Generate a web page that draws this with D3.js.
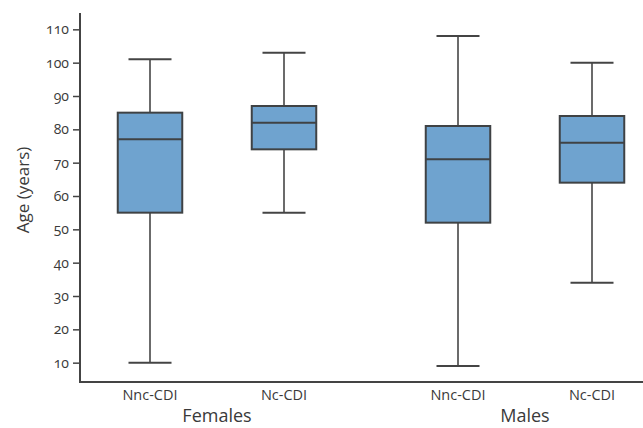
<!DOCTYPE html>
<html><head><meta charset="utf-8">
<script src="https://cdn.jsdelivr.net/npm/d3@7"></script>
<style>
body{margin:0;background:#fff;}
text{font-family:"Open Sans",sans-serif;fill:#3a3a3a;}
.tick text{font-variant-numeric:oldstyle-nums;font-feature-settings:"onum";}
</style></head><body>
<svg id="c" width="643" height="428"></svg>
<script>
const groups = ["Females", "Males"];
const categories = ["Nnc-CDI", "Nc-CDI"];
const whiskerLow  = [10, 55, 9, 34];
const q1          = [55, 74, 52, 64];
const medians     = [77, 82, 71, 76];
const q3          = [85, 87, 81, 84];
const whiskerHigh = [101, 103, 108, 100];
const yTicks = [10, 20, 30, 40, 50, 60, 70, 80, 90, 100, 110];

(function(){
const data = [];
groups.forEach((g, gi) => categories.forEach((c, ci) => {
  const i = gi * categories.length + ci;
  data.push({g, c, lo: whiskerLow[i], q1: q1[i], med: medians[i], q3: q3[i], hi: whiskerHigh[i]});
}));

const svg = d3.select("#c");
const mLeft = 80, mBottom = 382, mTop = 13, mRight = 643;
const y = d3.scaleLinear().domain([4.2, 114.9]).range([mBottom, mTop]);
const gx = d3.scalePoint().domain(groups).range([217, 525]);
const cx = d3.scalePoint().domain(categories).range([-67, 67]);
const X = d => gx(d.g) + cx(d.c);
const boxW = 64.5, capW = 43;

// y axis
const ya = svg.append("g").attr("transform", `translate(${mLeft},0)`)
  .call(d3.axisLeft(y).tickValues(yTicks).tickSize(7).tickPadding(4).tickSizeOuter(0));
ya.select(".domain").remove();
ya.selectAll(".tick line").attr("stroke", "#444").attr("stroke-width", 1.5);
ya.selectAll(".tick text").attr("font-size", 14).attr("fill", "#3a3a3a");
svg.append("line").attr("x1", mLeft).attr("x2", mLeft).attr("y1", mTop).attr("y2", mBottom + 1)
  .attr("stroke", "#444").attr("stroke-width", 2);
svg.append("line").attr("x1", mLeft - 1).attr("x2", mRight).attr("y1", mBottom).attr("y2", mBottom)
  .attr("stroke", "#444").attr("stroke-width", 2);

// whiskers
const b = svg.append("g").selectAll("g").data(data).join("g");
b.append("line").attr("x1", X).attr("x2", X).attr("y1", d => y(d.hi)).attr("y2", d => y(d.lo))
  .attr("stroke", "#6b6b6b").attr("stroke-width", 2);
b.append("line").attr("x1", d => X(d) - capW / 2).attr("x2", d => X(d) + capW / 2)
  .attr("y1", d => y(d.hi)).attr("y2", d => y(d.hi)).attr("stroke", "#444").attr("stroke-width", 2);
b.append("line").attr("x1", d => X(d) - capW / 2).attr("x2", d => X(d) + capW / 2)
  .attr("y1", d => y(d.lo)).attr("y2", d => y(d.lo)).attr("stroke", "#444").attr("stroke-width", 2);
b.append("rect").attr("x", d => X(d) - boxW / 2).attr("width", boxW)
  .attr("y", d => y(d.q3)).attr("height", d => y(d.q1) - y(d.q3))
  .attr("fill", "#6fa3cf").attr("stroke", "#3f4244").attr("stroke-width", 2);
b.append("line").attr("x1", d => X(d) - boxW / 2).attr("x2", d => X(d) + boxW / 2)
  .attr("y1", d => y(d.med)).attr("y2", d => y(d.med)).attr("stroke", "#3f4244").attr("stroke-width", 2);

// category labels
svg.append("g").selectAll("text").data(data).join("text")
  .attr("x", X).attr("y", 400).attr("text-anchor", "middle").attr("font-size", 14.5)
  .text(d => d.c);
svg.append("g").selectAll("text").data(groups).join("text")
  .attr("x", d => gx(d)).attr("y", 422).attr("text-anchor", "middle").attr("font-size", 18)
  .text(d => d);

svg.append("text").attr("transform", `translate(29,${(y(110)+y(10))/2 - 6}) rotate(-90)`)
  .attr("text-anchor", "middle").attr("font-size", 17).text("Age (years)");
})();
</script></body></html>
